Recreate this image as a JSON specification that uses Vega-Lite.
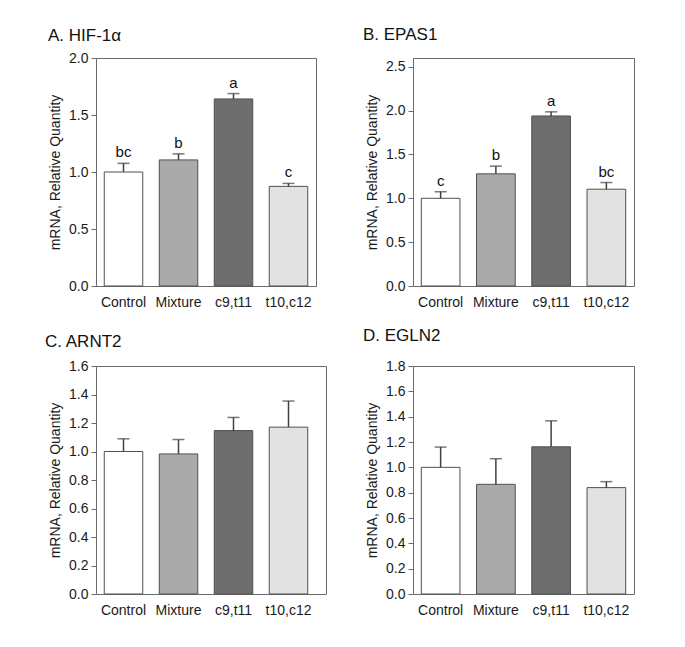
{
  "$schema": "https://vega.github.io/schema/vega-lite/v6.json",
  "background": "white",
  "padding": {"left": 44, "top": 25, "right": 5, "bottom": 5},
  "bounds": "flush",
  "datasets": {
    "rows": [
      {"panel": "A", "group": "Control", "mean": 1.0, "upper": 1.076, "label": "bc"},
      {"panel": "A", "group": "Mixture", "mean": 1.106, "upper": 1.159, "label": "b"},
      {"panel": "A", "group": "c9,t11", "mean": 1.641, "upper": 1.688, "label": "a"},
      {"panel": "A", "group": "t10,c12", "mean": 0.874, "upper": 0.9, "label": "c"},
      {"panel": "B", "group": "Control", "mean": 1.0, "upper": 1.075, "label": "c"},
      {"panel": "B", "group": "Mixture", "mean": 1.279, "upper": 1.367, "label": "b"},
      {"panel": "B", "group": "c9,t11", "mean": 1.939, "upper": 1.986, "label": "a"},
      {"panel": "B", "group": "t10,c12", "mean": 1.104, "upper": 1.18, "label": "bc"},
      {"panel": "C", "group": "Control", "mean": 1.0, "upper": 1.089, "label": ""},
      {"panel": "C", "group": "Mixture", "mean": 0.983, "upper": 1.084, "label": ""},
      {"panel": "C", "group": "c9,t11", "mean": 1.147, "upper": 1.239, "label": ""},
      {"panel": "C", "group": "t10,c12", "mean": 1.171, "upper": 1.354, "label": ""},
      {"panel": "D", "group": "Control", "mean": 1.0, "upper": 1.16, "label": ""},
      {"panel": "D", "group": "Mixture", "mean": 0.866, "upper": 1.068, "label": ""},
      {"panel": "D", "group": "c9,t11", "mean": 1.162, "upper": 1.367, "label": ""},
      {"panel": "D", "group": "t10,c12", "mean": 0.84, "upper": 0.887, "label": ""}
    ]
  },
  "data": {"name": "rows"},
  "columns": 2,
  "spacing": {"row": 80, "column": 87},
  "concat": [
    {
      "transform": [{"filter": "datum.panel === 'A'"}],
      "title": {"text": "A. HIF-1\u03b1", "dx": -48, "dy": 4},
      "width": 220, "height": 228,
      "encoding": {"x": {"field": "group", "type": "nominal", "sort": ["Control", "Mixture", "c9,t11", "t10,c12"], "scale": {"paddingInner": 0.3, "paddingOuter": 0.15}, "axis": {"title": null}}},
      "layer": [
        {"mark": {"type": "bar", "stroke": "#505050", "strokeWidth": 1},
         "encoding": {"y": {"field": "mean", "type": "quantitative", "title": "mRNA, Relative Quantity", "scale": {"domain": [0, 2]}, "axis": {"values": [0, 0.5, 1, 1.5, 2]}},
                      "fill": {"field": "group", "type": "nominal", "scale": {"domain": ["Control", "Mixture", "c9,t11", "t10,c12"], "range": ["#ffffff", "#aaaaaa", "#6e6e6e", "#e2e2e2"]}, "legend": null}}},
        {"mark": {"type": "rule", "color": "#404040", "strokeWidth": 1.5},
         "encoding": {"y": {"field": "mean", "type": "quantitative", "title": "mRNA, Relative Quantity", "axis": {"values": [0, 0.5, 1, 1.5, 2]}}, "y2": {"field": "upper"}}},
        {"mark": {"type": "tick", "color": "#404040", "size": 12, "thickness": 1.5},
         "encoding": {"y": {"field": "upper", "type": "quantitative", "title": "mRNA, Relative Quantity", "axis": {"values": [0, 0.5, 1, 1.5, 2]}}}},
        {"mark": {"type": "text", "baseline": "bottom", "dy": -3, "fontSize": 15, "font": "Liberation Sans", "color": "#111"},
         "encoding": {"y": {"field": "upper", "type": "quantitative", "title": "mRNA, Relative Quantity", "axis": {"values": [0, 0.5, 1, 1.5, 2]}}, "text": {"field": "label"}}}
      ]
    },
    {
      "transform": [{"filter": "datum.panel === 'B'"}],
      "title": {"text": "B. EPAS1", "dx": -50, "dy": -4},
      "width": 221, "height": 228,
      "encoding": {"x": {"field": "group", "type": "nominal", "sort": ["Control", "Mixture", "c9,t11", "t10,c12"], "scale": {"paddingInner": 0.3, "paddingOuter": 0.15}, "axis": {"title": null}}},
      "layer": [
        {"mark": {"type": "bar", "stroke": "#505050", "strokeWidth": 1},
         "encoding": {"y": {"field": "mean", "type": "quantitative", "title": "mRNA, Relative Quantity", "scale": {"domain": [0, 2.5]}, "axis": {"values": [0, 0.5, 1, 1.5, 2, 2.5]}},
                      "fill": {"field": "group", "type": "nominal", "scale": {"domain": ["Control", "Mixture", "c9,t11", "t10,c12"], "range": ["#ffffff", "#aaaaaa", "#6e6e6e", "#e2e2e2"]}, "legend": null}}},
        {"mark": {"type": "rule", "color": "#404040", "strokeWidth": 1.5},
         "encoding": {"y": {"field": "mean", "type": "quantitative", "title": "mRNA, Relative Quantity", "axis": {"values": [0, 0.5, 1, 1.5, 2, 2.5]}}, "y2": {"field": "upper"}}},
        {"mark": {"type": "tick", "color": "#404040", "size": 12, "thickness": 1.5},
         "encoding": {"y": {"field": "upper", "type": "quantitative", "title": "mRNA, Relative Quantity", "axis": {"values": [0, 0.5, 1, 1.5, 2, 2.5]}}}},
        {"mark": {"type": "text", "baseline": "bottom", "dy": -3, "fontSize": 15, "font": "Liberation Sans", "color": "#111"},
         "encoding": {"y": {"field": "upper", "type": "quantitative", "title": "mRNA, Relative Quantity", "axis": {"values": [0, 0.5, 1, 1.5, 2, 2.5]}}, "text": {"field": "label"}}}
      ]
    },
    {
      "transform": [{"filter": "datum.panel === 'C'"}],
      "title": {"text": "C. ARNT2", "dx": -51, "dy": 2},
      "width": 230, "height": 228,
      "encoding": {"x": {"field": "group", "type": "nominal", "sort": ["Control", "Mixture", "c9,t11", "t10,c12"], "scale": {"paddingInner": 0.3, "paddingOuter": 0.15, "range": [0, 220]}, "axis": {"title": null}}},
      "layer": [
        {"mark": {"type": "bar", "stroke": "#505050", "strokeWidth": 1},
         "encoding": {"y": {"field": "mean", "type": "quantitative", "title": "mRNA, Relative Quantity", "scale": {"domain": [0, 1.6]}, "axis": {"values": [0, 0.2, 0.4, 0.6, 0.8, 1, 1.2, 1.4, 1.6]}},
                      "fill": {"field": "group", "type": "nominal", "scale": {"domain": ["Control", "Mixture", "c9,t11", "t10,c12"], "range": ["#ffffff", "#aaaaaa", "#6e6e6e", "#e2e2e2"]}, "legend": null}}},
        {"mark": {"type": "rule", "color": "#404040", "strokeWidth": 1.5},
         "encoding": {"y": {"field": "mean", "type": "quantitative", "title": "mRNA, Relative Quantity", "axis": {"values": [0, 0.2, 0.4, 0.6, 0.8, 1, 1.2, 1.4, 1.6]}}, "y2": {"field": "upper"}}},
        {"mark": {"type": "tick", "color": "#404040", "size": 12, "thickness": 1.5},
         "encoding": {"y": {"field": "upper", "type": "quantitative", "title": "mRNA, Relative Quantity", "axis": {"values": [0, 0.2, 0.4, 0.6, 0.8, 1, 1.2, 1.4, 1.6]}}}}
      ]
    },
    {
      "transform": [{"filter": "datum.panel === 'D'"}],
      "title": {"text": "D. EGLN2", "dx": -50, "dy": -4},
      "width": 221, "height": 228,
      "encoding": {"x": {"field": "group", "type": "nominal", "sort": ["Control", "Mixture", "c9,t11", "t10,c12"], "scale": {"paddingInner": 0.3, "paddingOuter": 0.15}, "axis": {"title": null}}},
      "layer": [
        {"mark": {"type": "bar", "stroke": "#505050", "strokeWidth": 1},
         "encoding": {"y": {"field": "mean", "type": "quantitative", "title": "mRNA, Relative Quantity", "scale": {"domain": [0, 1.8]}, "axis": {"values": [0, 0.2, 0.4, 0.6, 0.8, 1, 1.2, 1.4, 1.6, 1.8]}},
                      "fill": {"field": "group", "type": "nominal", "scale": {"domain": ["Control", "Mixture", "c9,t11", "t10,c12"], "range": ["#ffffff", "#aaaaaa", "#6e6e6e", "#e2e2e2"]}, "legend": null}}},
        {"mark": {"type": "rule", "color": "#404040", "strokeWidth": 1.5},
         "encoding": {"y": {"field": "mean", "type": "quantitative", "title": "mRNA, Relative Quantity", "axis": {"values": [0, 0.2, 0.4, 0.6, 0.8, 1, 1.2, 1.4, 1.6, 1.8]}}, "y2": {"field": "upper"}}},
        {"mark": {"type": "tick", "color": "#404040", "size": 12, "thickness": 1.5},
         "encoding": {"y": {"field": "upper", "type": "quantitative", "title": "mRNA, Relative Quantity", "axis": {"values": [0, 0.2, 0.4, 0.6, 0.8, 1, 1.2, 1.4, 1.6, 1.8]}}}}
      ]
    }
  ],
  "resolve": {"scale": {"fill": "shared"}},
  "config": {
    "font": "Liberation Sans",
    "view": {"stroke": "#6a6a6a", "strokeWidth": 1},
    "axis": {"labelFont": "Liberation Sans", "labelFontSize": 14, "labelColor": "#1a1a1a", "titleFont": "Liberation Sans", "titleFontSize": 14, "titleFontWeight": "normal", "titleColor": "#1a1a1a", "grid": false, "domain": false, "tickColor": "#6a6a6a", "labelOverlap": false, "labelFlush": false},
    "axisX": {"ticks": false, "labelAngle": 0, "labelPadding": 9},
    "axisY": {"format": ".1f", "tickSize": 5, "labelPadding": 3, "titlePadding": 6},
    "title": {"font": "Liberation Sans", "fontSize": 17, "fontWeight": "normal", "color": "#111", "anchor": "start", "frame": "group", "offset": 10}
  }
}
